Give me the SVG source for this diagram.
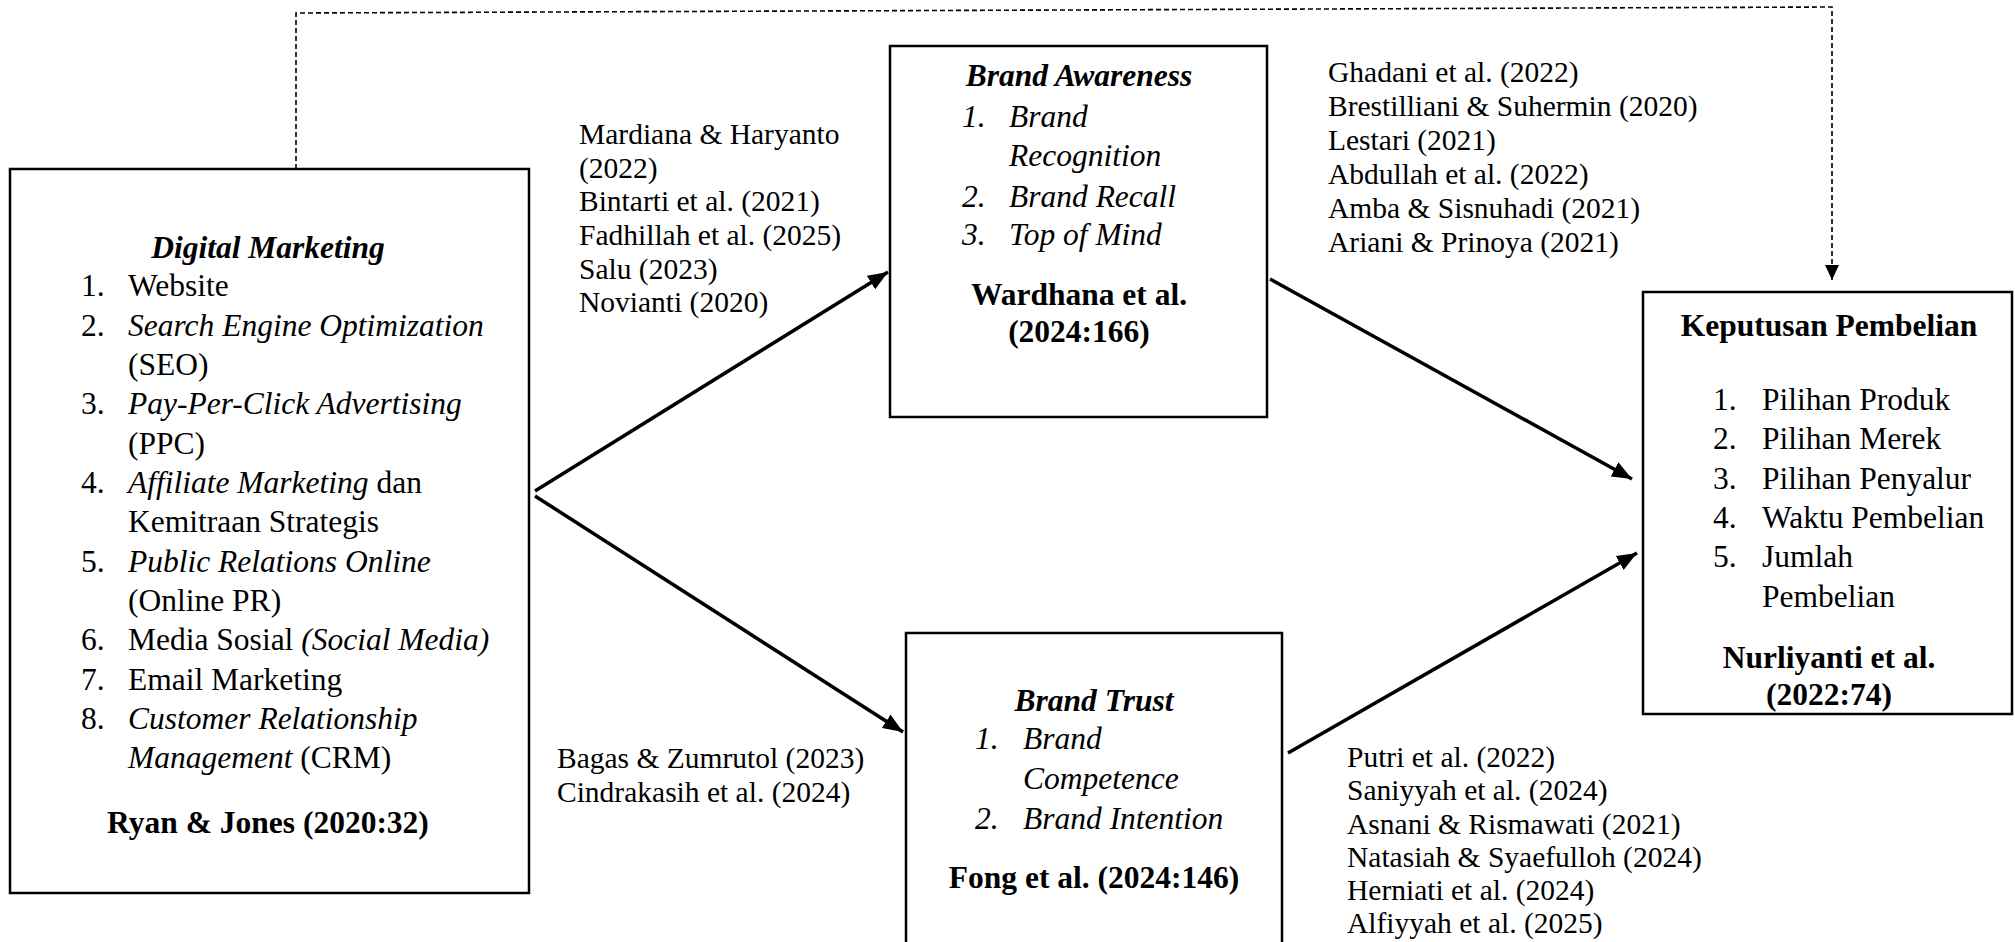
<svg xmlns="http://www.w3.org/2000/svg" width="2015" height="942" viewBox="0 0 2015 942" font-family="'Liberation Serif', 'DejaVu Serif', serif">
<style>
text{font-family:'Liberation Serif','DejaVu Serif',serif;fill:#000}
.t{font-size:31.5px}
.c{font-size:29.5px}
.b{font-weight:bold}
.i{font-style:italic}
.m{text-anchor:middle}
.box{fill:#fff;stroke:#000;stroke-width:2.5}
.arr{fill:none;stroke:#000;stroke-width:3.5;marker-end:url(#ah)}
.dash{fill:none;stroke:#000;stroke-width:1.6;stroke-dasharray:5 3}
</style>
<defs>
<marker id="ah" markerUnits="userSpaceOnUse" markerWidth="22" markerHeight="16" refX="20" refY="8" orient="auto">
<path d="M0,0 L20,8 L0,16 Z" fill="#000"/>
</marker>
<marker id="ahd" markerUnits="userSpaceOnUse" markerWidth="16" markerHeight="14" refX="15" refY="7" orient="auto">
<path d="M0,0 L15,7 L0,14 Z" fill="#000"/>
</marker>
</defs>
<rect width="2015" height="942" fill="#fff"/>

<g id="connectors">
<path class="dash" d="M296,169 V13 L1832,7 V280" marker-end="url(#ahd)"/>
<line class="arr" x1="535" y1="491" x2="888" y2="272"/>
<line class="arr" x1="535" y1="496" x2="903" y2="732"/>
<line class="arr" x1="1270" y1="279" x2="1632" y2="479"/>
<line class="arr" x1="1288" y1="753" x2="1637" y2="553"/>
</g>

<g id="digital-marketing">
<rect class="box" x="10" y="169" width="519" height="724"/>
<text class="t b i m" x="268" y="258">Digital Marketing</text>
<g class="t">
<text x="81" y="296">1.</text><text x="128" y="296">Website</text>
<text x="81" y="335.5">2.</text><text x="128" y="335.5" class="i">Search Engine Optimization</text>
<text x="128" y="375">(SEO)</text>
<text x="81" y="414">3.</text><text x="128" y="414" class="i">Pay-Per-Click Advertising</text>
<text x="128" y="453.5">(PPC)</text>
<text x="81" y="493">4.</text><text x="128" y="493"><tspan class="i">Affiliate Marketing</tspan> dan</text>
<text x="128" y="532">Kemitraan Strategis</text>
<text x="81" y="571.5">5.</text><text x="128" y="571.5" class="i">Public Relations Online</text>
<text x="128" y="611">(Online PR)</text>
<text x="81" y="650">6.</text><text x="128" y="650">Media Sosial <tspan class="i">(Social Media)</tspan></text>
<text x="81" y="690">7.</text><text x="128" y="690">Email Marketing</text>
<text x="81" y="729">8.</text><text x="128" y="729" class="i">Customer Relationship</text>
<text x="128" y="768"><tspan class="i">Management</tspan> (CRM)</text>
</g>
<text class="t b m" x="268" y="833">Ryan &amp; Jones (2020:32)</text>
</g>

<g id="brand-awareness">
<rect class="box" x="890" y="46" width="377" height="371"/>
<text class="t b i m" x="1079" y="86">Brand Awareness</text>
<g class="t i">
<text x="962" y="127">1.</text><text x="1009" y="127">Brand</text>
<text x="1009" y="166">Recognition</text>
<text x="962" y="207">2.</text><text x="1009" y="207">Brand Recall</text>
<text x="962" y="245">3.</text><text x="1009" y="245">Top of Mind</text>
</g>
<text class="t b m" x="1079" y="305">Wardhana et al.</text>
<text class="t b m" x="1079" y="342">(2024:166)</text>
</g>

<g id="brand-trust">
<path class="box" d="M906,950 V633 H1282 V950"/>
<text class="t b i m" x="1094" y="711">Brand Trust</text>
<g class="t i">
<text x="975" y="749">1.</text><text x="1023" y="749">Brand</text>
<text x="1023" y="789">Competence</text>
<text x="975" y="829">2.</text><text x="1023" y="829">Brand Intention</text>
</g>
<text class="t b m" x="1094" y="888">Fong et al. (2024:146)</text>
</g>

<g id="keputusan-pembelian">
<rect class="box" x="1643" y="292" width="369" height="422"/>
<text class="t b m" x="1829" y="336">Keputusan Pembelian</text>
<g class="t">
<text x="1713" y="410">1.</text><text x="1762" y="410">Pilihan Produk</text>
<text x="1713" y="449">2.</text><text x="1762" y="449">Pilihan Merek</text>
<text x="1713" y="489">3.</text><text x="1762" y="489">Pilihan Penyalur</text>
<text x="1713" y="528">4.</text><text x="1762" y="528">Waktu Pembelian</text>
<text x="1713" y="567">5.</text><text x="1762" y="567">Jumlah</text>
<text x="1762" y="607">Pembelian</text>
</g>
<text class="t b m" x="1829" y="668">Nurliyanti et al.</text>
<text class="t b m" x="1829" y="705">(2022:74)</text>
</g>

<g id="citations-da-ba" class="c">
<text x="579" y="144">Mardiana &amp; Haryanto</text>
<text x="579" y="177.5">(2022)</text>
<text x="579" y="211">Bintarti et al. (2021)</text>
<text x="579" y="245">Fadhillah et al. (2025)</text>
<text x="579" y="278.5">Salu (2023)</text>
<text x="579" y="312">Novianti (2020)</text>
</g>

<g id="citations-ba-kp" class="c">
<text x="1328" y="82">Ghadani et al. (2022)</text>
<text x="1328" y="116">Brestilliani &amp; Suhermin (2020)</text>
<text x="1328" y="150">Lestari (2021)</text>
<text x="1328" y="184">Abdullah et al. (2022)</text>
<text x="1328" y="218">Amba &amp; Sisnuhadi (2021)</text>
<text x="1328" y="252">Ariani &amp; Prinoya (2021)</text>
</g>

<g id="citations-dm-bt" class="c">
<text x="557" y="768">Bagas &amp; Zumrutol (2023)</text>
<text x="557" y="802">Cindrakasih et al. (2024)</text>
</g>

<g id="citations-bt-kp" class="c">
<text x="1347" y="767">Putri et al. (2022)</text>
<text x="1347" y="800">Saniyyah et al. (2024)</text>
<text x="1347" y="834">Asnani &amp; Rismawati (2021)</text>
<text x="1347" y="867">Natasiah &amp; Syaefulloh (2024)</text>
<text x="1347" y="900">Herniati et al. (2024)</text>
<text x="1347" y="933">Alfiyyah et al. (2025)</text>
</g>
</svg>
